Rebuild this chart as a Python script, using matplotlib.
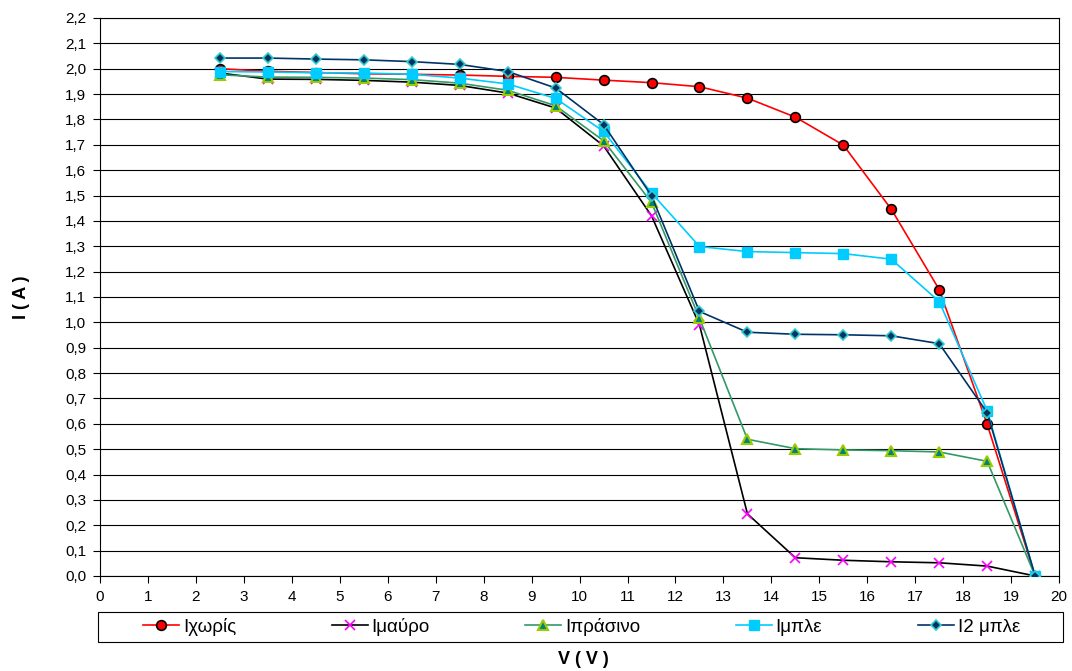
import matplotlib
matplotlib.use("Agg")
from matplotlib import pyplot as plt
from matplotlib.patches import Rectangle
from matplotlib.ticker import FuncFormatter, MultipleLocator

plt.rcParams['font.family'] = ['Liberation Sans', 'DejaVu Sans']

V = [2.5, 3.5, 4.5, 5.5, 6.5, 7.5, 8.5, 9.5, 10.5, 11.5, 12.5, 13.5, 14.5, 15.5, 16.5, 17.5, 18.5, 19.5]

I_xoris = [2.0, 1.99, 1.985, 1.98, 1.978, 1.975, 1.97, 1.966, 1.955, 1.945, 1.929, 1.884, 1.809, 1.699, 1.446, 1.129, 0.598, 0.0]
I_mavro = [1.983, 1.959, 1.958, 1.954, 1.947, 1.934, 1.904, 1.845, 1.696, 1.42, 0.99, 0.245, 0.072, 0.062, 0.056, 0.052, 0.039, 0.0]
I_prasino = [1.976, 1.967, 1.966, 1.963, 1.957, 1.943, 1.915, 1.854, 1.716, 1.473, 1.016, 0.539, 0.502, 0.497, 0.494, 0.489, 0.452, 0.0]
I_mple = [1.989, 1.987, 1.984, 1.983, 1.978, 1.963, 1.94, 1.883, 1.753, 1.51, 1.299, 1.279, 1.275, 1.271, 1.249, 1.082, 0.651, 0.0]
I2_mple = [2.042, 2.042, 2.038, 2.035, 2.028, 2.017, 1.989, 1.924, 1.78, 1.499, 1.043, 0.961, 0.953, 0.951, 0.947, 0.916, 0.644, 0.0]

labels = ['Ιχωρίς', 'Ιμαύρο', 'Ιπράσινο', 'Ιμπλε', 'Ι2 μπλε']

fig = plt.figure(figsize=(10.72, 6.71), dpi=100)
ax = fig.add_axes([0.0933, 0.1416, 0.8947, 0.8316])

ax.plot(V, I_xoris, color='#FF0000', lw=1.2, marker='o', ms=7,
        mfc='#FF0000', mec='black', mew=1.2, label=labels[0], zorder=3)
ax.plot(V, I_mavro, color='black', lw=1.2, marker='x', ms=7,
        mec='#FF00FF', mew=1.2, label=labels[1], zorder=3)
ax.plot(V, I_prasino, color='#339966', lw=1.2, marker='^', ms=7,
        mfc='#008080', mec='#99CC00', mew=1.5, label=labels[2], zorder=3)
ax.plot(V, I_mple, color='#00CCFF', lw=1.2, marker='s', ms=7,
        mfc='#00CCFF', mec='#00CCFF', label=labels[3], zorder=3)
ax.plot(V, I2_mple, color='#003366', lw=1.2, marker='D', ms=5.5,
        mfc='#003366', mec='#33CCCC', mew=1.2, label=labels[4], zorder=3)

ax.set_xlim(0, 20)
ax.set_ylim(0, 2.2)
ax.xaxis.set_major_locator(MultipleLocator(1))
ax.yaxis.set_major_locator(MultipleLocator(0.1))
ax.yaxis.set_major_formatter(FuncFormatter(lambda v, p: ('%.1f' % v).replace('.', ',')))
ax.grid(axis='y', color='black', lw=0.8)
ax.set_axisbelow(True)
ax.tick_params(labelsize=11, length=5, width=0.8)
ax.tick_params(axis='x', pad=5)
ax.tick_params(axis='y', pad=5)
for s in ax.spines.values():
    s.set_linewidth(0.8)
    s.set_color('black')

fig.text(0.0205, 0.5574, 'I ( A )', rotation=90, ha='center', va='center',
         fontsize=13, fontweight='bold')
fig.text(0.544, 0.0164, 'V ( V )', ha='center', va='center', fontsize=13, fontweight='bold')

# legend frame spans the plot width, entries are centred inside it
fig.patches.append(Rectangle((98 / 1072, 1 - 642 / 671), (1063 - 98) / 1072, 30 / 671,
                             transform=fig.transFigure, fill=False,
                             edgecolor='black', lw=0.8))
leg = fig.legend(loc='center', bbox_to_anchor=(0.5425, 0.0656), ncol=5,
                 frameon=False, fontsize=13.5, handlelength=1.92,
                 handletextpad=0.2, columnspacing=5.1, borderpad=0, borderaxespad=0)

fig.savefig('out.png', dpi=100)
